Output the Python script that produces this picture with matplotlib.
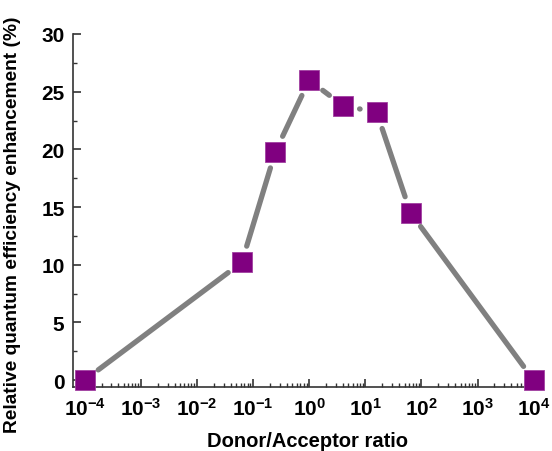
import numpy as np
import matplotlib
matplotlib.use('Agg')
from matplotlib import pyplot as plt
from matplotlib.ticker import LogLocator, MultipleLocator, FixedLocator

# data
ratio = [1e-4, 0.063, 0.25, 1.0, 4.0, 16.0, 64.0, 1e4]
enhancement = [0.0, 10.2, 19.8, 26.0, 23.8, 23.2, 14.5, 0.0]
decades = [-4, -3, -2, -1, 0, 1, 2, 3, 4]
yticks = [0, 5, 10, 15, 20, 25, 30]

plt.rcParams['font.family'] = 'Liberation Sans'
plt.rcParams['font.weight'] = 'bold'
plt.rcParams['mathtext.fontset'] = 'custom'
plt.rcParams['mathtext.rm'] = 'Liberation Sans:bold'
plt.rcParams['mathtext.it'] = 'Liberation Sans:bold'
plt.rcParams['mathtext.bf'] = 'Liberation Sans:bold'

fig = plt.figure(figsize=(5.52, 4.52), dpi=100)
ax = fig.add_axes([0.132, 0.1416, 0.850, 0.781])
ax.set_xscale('log')
ax.set_xlim(10**-4.21, 10**4.15)
ax.set_ylim(-0.6, 30)

line_col = '#808080'
sq_col = '#800080'
axis_col = '#333333'

# gray connecting segments, cut short near each marker (Origin style gaps)
fig.canvas.draw()
pts = ax.transData.transform(np.column_stack([ratio, enhancement]))
gap = 17  # px from marker centre
inv = ax.transData.inverted()
for i in range(len(pts) - 1):
    p0, p1 = pts[i], pts[i + 1]
    d = p1 - p0
    L = np.hypot(d[0], d[1])
    if L <= 2 * gap:
        continue
    u = d / L
    a = inv.transform(p0 + u * gap)
    b = inv.transform(p1 - u * gap)
    ax.plot([a[0], b[0]], [a[1], b[1]], color=line_col, lw=3.8,
            solid_capstyle='round', zorder=2)

ax.plot(ratio, enhancement, ls='none', marker='s', ms=14, mfc=sq_col,
        mec='#a040a0', mew=0.6, zorder=3, clip_on=False)

for s in ['top', 'right']:
    ax.spines[s].set_visible(False)
for s in ['left', 'bottom']:
    ax.spines[s].set_color(axis_col)
    ax.spines[s].set_linewidth(1.2)

ax.xaxis.set_major_locator(FixedLocator([10.0**d for d in decades]))
ax.set_xticklabels([r'$10^{%d}$' % d for d in decades])
ax.xaxis.set_minor_locator(LogLocator(base=10, subs=np.arange(2, 10), numticks=20))
ax.set_yticks(yticks)
ax.yaxis.set_minor_locator(MultipleLocator(2.5))

ax.tick_params(which='both', direction='in', colors=axis_col, labelcolor='black',
               labelsize=15)
ax.tick_params(which='major', length=6, width=1.2)
ax.tick_params(which='minor', length=3, width=1.0)
ax.tick_params(axis='x', pad=7)
ax.tick_params(axis='y', pad=6)

ax.set_xlabel('Donor/Acceptor ratio', fontsize=14.5, fontweight='bold', labelpad=9)
ax.set_ylabel('Relative quantum efficiency enhancement (%)', fontsize=13.8,
              fontweight='bold')
ax.yaxis.set_label_coords(-0.11, 0.462)

fig.savefig('out.png', dpi=100)
